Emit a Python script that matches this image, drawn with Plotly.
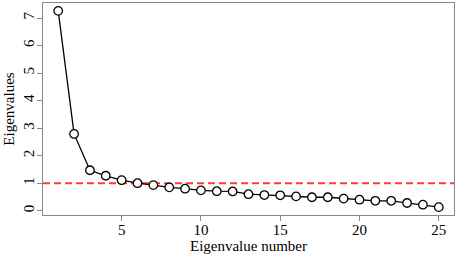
import plotly.graph_objects as go

eig_number = list(range(1, 26))
eigenvalues = [7.26, 2.79, 1.47, 1.27, 1.11, 1.00, 0.93, 0.85, 0.80, 0.74,
               0.71, 0.70, 0.60, 0.57, 0.56, 0.52, 0.49, 0.49, 0.44, 0.40,
               0.36, 0.36, 0.28, 0.22, 0.13]
x_ticks = [5, 10, 15, 20, 25]
y_ticks = [0, 1, 2, 3, 4, 5, 6, 7]
threshold = 1

FONT = "Liberation Serif, Times New Roman, serif"

fig = go.Figure()
fig.add_trace(go.Scatter(
    x=eig_number, y=eigenvalues, mode="lines+markers",
    line=dict(color="black", width=1.3),
    marker=dict(size=8.5, color="white", line=dict(color="black", width=1.3)),
    showlegend=False, cliponaxis=False,
))

xmin, xmax = min(eig_number), max(eig_number)
ymin, ymax = min(eigenvalues), max(eigenvalues)
xpad = 0.04 * (xmax - xmin)
ypad = 0.04 * (ymax - ymin)

fig.add_shape(type="line", xref="paper", x0=0, x1=1, yref="y", y0=threshold, y1=threshold,
              line=dict(color="#FF3B3B", width=2, dash="7px,4px"), layer="below")

fig.update_layout(
    width=459, height=257,
    margin=dict(l=43, r=5, t=3, b=42),
    paper_bgcolor="white", plot_bgcolor="white",
    font=dict(family=FONT, size=15, color="black"),
)
fig.update_xaxes(
    range=[xmin - xpad, xmax + xpad], tickvals=x_ticks, ticktext=[str(v) for v in x_ticks],
    automargin=False,
    showgrid=False, zeroline=False, showline=True, mirror=True, linecolor="#888888", linewidth=1,
    ticks="outside", ticklen=5, tickcolor="#888888", ticklabelstandoff=-4,
    title=dict(text="Eigenvalue number", standoff=2, font=dict(family=FONT, size=15)),
)
fig.update_yaxes(
    range=[ymin - ypad, ymax + ypad], tickvals=y_ticks, ticktext=[str(v) for v in y_ticks],
    tickangle=-90, automargin=False,
    showgrid=False, zeroline=False, showline=True, mirror=True, linecolor="#888888", linewidth=1,
    ticks="outside", ticklen=5, tickcolor="#888888", ticklabelstandoff=-3,
    title=dict(text="Eigenvalues", standoff=2, font=dict(family=FONT, size=15)),
)

fig.write_html("out.html", config={"displayModeBar": False},
               post_script="document.body.style.margin='0px';")
